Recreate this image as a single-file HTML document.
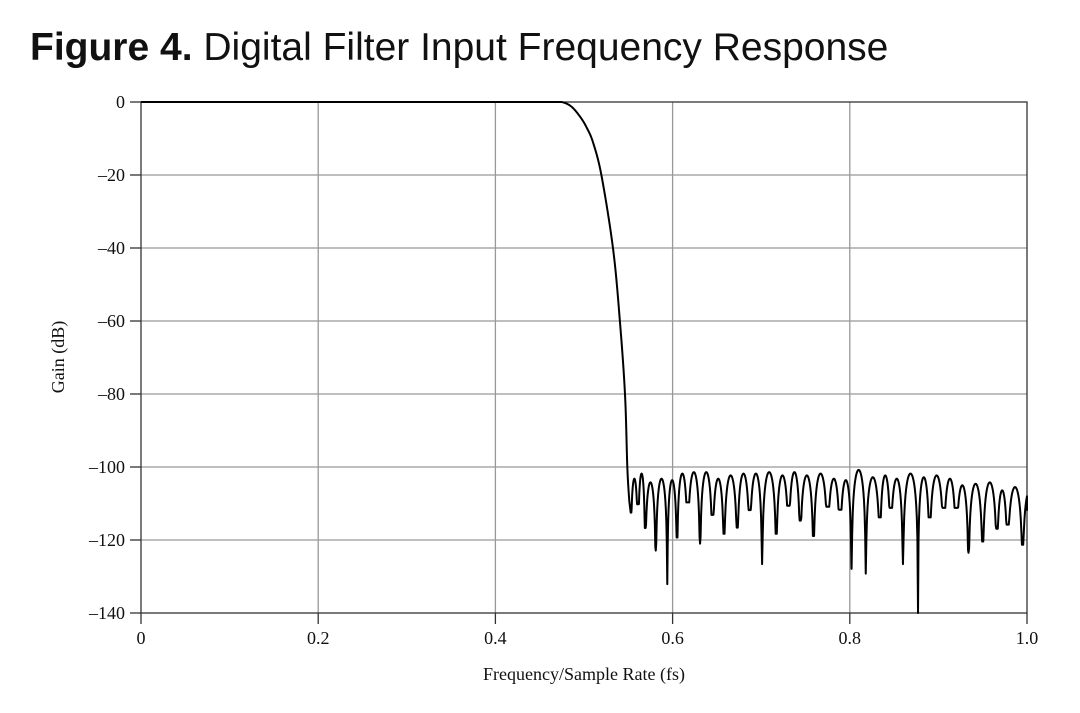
<!DOCTYPE html>
<html><head><meta charset="utf-8">
<style>
html,body{margin:0;padding:0;background:#fff;}
body{width:1080px;height:713px;overflow:hidden;position:relative;}
#title{position:absolute;left:30px;top:26px;font-family:"Liberation Sans","DejaVu Sans",sans-serif;font-size:39px;color:#111;white-space:nowrap;letter-spacing:0px;}
#title b{font-weight:bold;}
svg{position:absolute;left:0;top:0;}
svg text{font-family:"Liberation Serif",serif;font-size:18px;fill:#111;}
</style></head>
<body>
<div id="title"><b>Figure 4.</b> Digital Filter Input Frequency Response</div>
<svg id="chart" width="1080" height="713"></svg>
<script>
const xTicks=[0,0.2,0.4,0.6,0.8,1.0];
const xTickLabels=["0","0.2","0.4","0.6","0.8","1.0"];
const yTicks=[0,-20,-40,-60,-80,-100,-120,-140];
const yTickLabels=["0","\u201320","\u201340","\u201360","\u201380","\u2013100","\u2013120","\u2013140"];
// passband + transition band (freq, dB)
const transFreq=[0,0.4748,0.4855,0.4955,0.503,0.5105,0.520,0.533,0.5406,0.5463,0.5489,0.5511];
const transGain=[0,0,-1.2,-4,-7,-11.3,-20.5,-40.6,-60.3,-80.2,-100.1,-109.3];
// stopband nulls (freq, dB) and peaks between consecutive nulls
const nullFreq=[0.5527,0.561,0.569,0.581,0.594,0.605,0.617,0.631,0.645,0.658,0.673,0.687,0.701,0.717,0.731,0.744,0.759,0.775,0.789,0.802,0.818,0.834,0.846,0.860,0.877,0.890,0.906,0.920,0.934,0.950,0.966,0.978,0.995];
const nullGain=[-112.5,-110.2,-116.7,-122.9,-132.1,-119.3,-109.7,-121.0,-113.1,-118.3,-116.6,-111.8,-126.6,-118.3,-110.6,-114.7,-118.9,-110.9,-111.7,-127.9,-129.2,-113.8,-111.2,-126.6,-140,-113.8,-111.2,-111.2,-123.5,-120.4,-116.9,-115.8,-121.3];
const peakGain=[-103.2,-101.8,-104.2,-103.2,-103.6,-101.8,-101.4,-101.4,-103.2,-102.3,-101.8,-101.8,-101.4,-102.3,-101.4,-102.3,-101.8,-103.2,-103.6,-100.8,-102.8,-102.3,-103.2,-101.8,-102.8,-102.3,-103.2,-105,-104.6,-104.2,-106.4,-105.5];
const endFreq=1.0, endGain=-112;

const L=141,R=1027,T=102,B=613;
const xs=v=>L+(v-0)/(1-0)*(R-L);
const ys=v=>T+(0-v)/(0-(-140))*(B-T);
const NS="http://www.w3.org/2000/svg";
const svg=document.getElementById('chart');
function mk(tag,attrs){const e=document.createElementNS(NS,tag);for(const k in attrs)e.setAttribute(k,attrs[k]);svg.appendChild(e);return e;}

xTicks.forEach((t,i)=>{
  const x=xs(t);
  if(i>0&&i<xTicks.length-1){const g=mk('line',{x1:x,y1:T,x2:x,y2:B,stroke:'#999','stroke-width':1.3});
  
  }
  const tk=mk('line',{x1:x,y1:B,x2:x,y2:B+11,stroke:'#333','stroke-width':1.3});
  
  
  const lb=mk('text',{x:x,y:B+31,'text-anchor':'middle'});lb.textContent=xTickLabels[i];
  
  
});
yTicks.forEach((t,i)=>{
  const y=ys(t);
  if(i>0&&i<yTicks.length-1){const g=mk('line',{x1:L,y1:y,x2:R,y2:y,stroke:'#999','stroke-width':1.3});
  
  }
  const tk=mk('line',{x1:L-11,y1:y,x2:L,y2:y,stroke:'#333','stroke-width':1.3});
  
  
  const lb=mk('text',{x:L-16,y:y+6,'text-anchor':'end'});lb.textContent=yTickLabels[i];
  
  
});
const frame=mk('rect',{x:L,y:T,width:R-L,height:B-T,fill:'none',stroke:'#333','stroke-width':1.3});



// build curve: flat passband, then Catmull-Rom smoothed transition
let pts=[];
const tp=transFreq.map((f,i)=>[xs(f),ys(transGain[i])]);
pts.push(tp[0]);
pts.push(tp[1]);
for(let i=1;i<tp.length-1;i++){
  const p1=tp[i],p2=tp[i+1];
  const p0=i>1?tp[i-1]:[2*p1[0]-p2[0],p1[1]];
  const p3=tp[Math.min(tp.length-1,i+2)];
  const S=12;
  for(let k=1;k<=S;k++){
    const t=k/S,t2=t*t,t3=t2*t;
    const c=(a,b,c2,d)=>0.5*((2*b)+(-a+c2)*t+(2*a-5*b+4*c2-d)*t2+(-a+3*b-3*c2+d)*t3);
    let y=c(p0[1],p1[1],p2[1],p3[1]);
    if(y<T)y=T;
    pts.push([c(p0[0],p1[0],p2[0],p3[0]),y]);
  }
}
pts.push([xs(nullFreq[0]),ys(nullGain[0])]);
const N=24;
for(let i=0;i<nullFreq.length;i++){
  const a=nullFreq[i], ga=nullGain[i];
  let b,gb,p;
  if(i<nullFreq.length-1){b=nullFreq[i+1];gb=nullGain[i+1];p=peakGain[i];}
  else{b=a+(a-nullFreq[i-1]);gb=nullGain[i];p=endGain+6;}
  for(let k=1;k<=N;k++){
    const t=k/N, f=a+(b-a)*t;
    if(f>endFreq){break;}
    let d=p+20*Math.log10(Math.max(Math.sin(Math.PI*t),1e-6));
    d=Math.max(d,t<0.5?ga:gb);
    pts.push([xs(f),ys(d)]);
  }
}
pts.push([xs(endFreq),ys(endGain)]);
const dstr=pts.map((p,i)=>(i?'L':'M')+p[0].toFixed(2)+' '+p[1].toFixed(2)).join(' ');
const line=mk('path',{d:dstr,fill:'none',stroke:'#000','stroke-width':2,'stroke-linejoin':'round'});



const xt=mk('text',{x:(L+R)/2,y:680,'text-anchor':'middle'});xt.textContent='Frequency/Sample Rate (fs)';


const yt=mk('text',{x:0,y:0,'text-anchor':'middle',transform:'translate(64,357) rotate(-90)'});yt.textContent='Gain (dB)';


</script>
</body></html>
